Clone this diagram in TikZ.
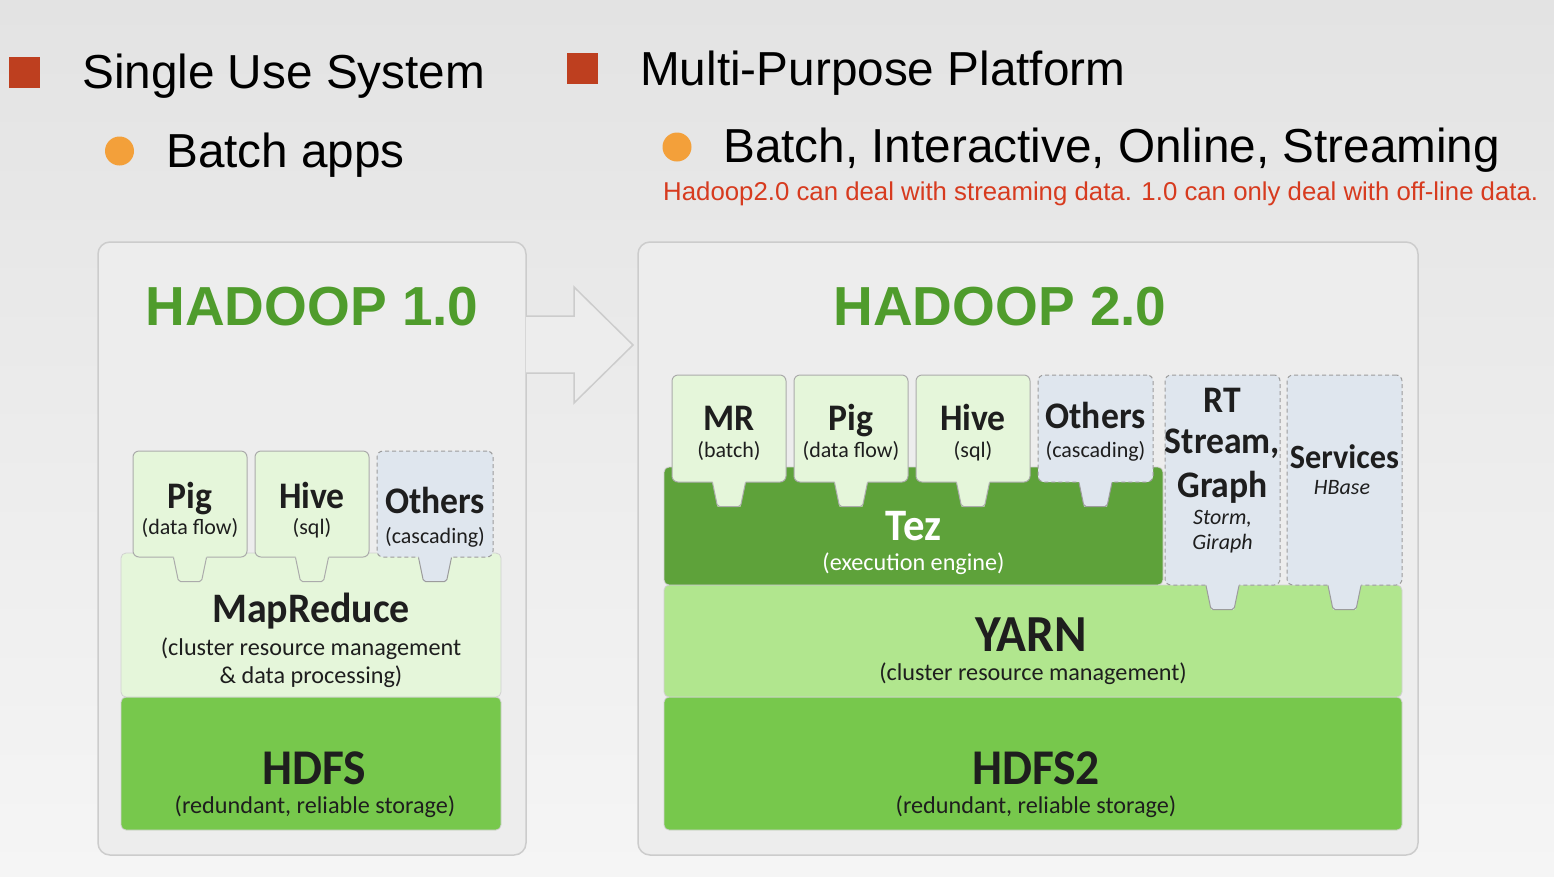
\documentclass[tikz,border=0pt]{standalone}
\usepackage{fontspec}
\setmainfont{Liberation Sans}
\newfontfamily\calb[FakeStretch=0.95]{Carlito}
\newfontfamily\calr{Carlito}
\newcommand\fsz[1]{\fontsize{#1}{#1}\selectfont}
\definecolor{bgtop}{HTML}{E3E3E3}
\definecolor{bgbot}{HTML}{F5F5F5}
\definecolor{panelfill}{HTML}{EDEDED}
\definecolor{panelline}{HTML}{CCCCCC}
\definecolor{redsq}{HTML}{BE3F1F}
\definecolor{orangedot}{HTML}{F3A03A}
\definecolor{redtext}{HTML}{D73B1F}
\definecolor{titlegreen}{HTML}{4F9C2C}
\definecolor{appgreen}{HTML}{E5F6DA}
\definecolor{appline}{HTML}{ABABAB}
\definecolor{otherfill}{HTML}{DFE6EE}
\definecolor{otherline}{HTML}{9C9C9C}
\definecolor{hdfsgreen}{HTML}{77C84C}
\definecolor{tezgreen}{HTML}{5EA23A}
\definecolor{yarngreen}{HTML}{B1E68E}
\definecolor{textdark}{HTML}{1E1E1E}
\tikzset{
  hdr/.style={inner sep=0pt, anchor=base west, text=black, font={\fsz{47.7}}},
  bigtitle/.style={inner sep=0pt, anchor=base, text=titlegreen, font={\bfseries\fsz{55}}},
  panel/.style={draw=panelline, fill=panelfill, line width=1.5pt, rounded corners=12pt, inner sep=0pt},
  arrowline/.style={draw=panelline, line width=1.5pt, fill=panelfill, line join=miter},
  layer/.style={inner sep=0pt, rounded corners=5pt, draw=black!18, line width=0.8pt},
  appbox/.style={inner sep=0pt, rounded corners=6pt, draw=appline, fill=appgreen, line width=1pt},
  otherbox/.style={inner sep=0pt, rounded corners=6pt, draw=otherline, fill=otherfill, line width=1pt, dash pattern=on 4pt off 3pt},
  ttl/.style={inner sep=0pt, anchor=base, text=textdark, font={\calb\bfseries\fsz{37.5}}},
  sub/.style={inner sep=0pt, anchor=base, text=textdark, font={\calr\fsz{22}}},
  itl/.style={inner sep=0pt, anchor=base, text=textdark, font={\calr\itshape\fsz{22}}},
  laytl/.style={inner sep=0pt, anchor=base, text=textdark, font={\calb\bfseries\fsz{50}}},
  laysub/.style={inner sep=0pt, anchor=base, text=textdark, font={\calr\fsz{24.2}}},
}
% tab below a box: #1 node, #2 fill colour, #3 line style
\newcommand\tabbelow[3]{%
  \fill[#2] ([shift={(-16.5,-2)}]#1.south) -- ([shift={(-16.5,0)}]#1.south) -- ([shift={(-11.5,24)}]#1.south) -- ([shift={(11.5,24)}]#1.south) -- ([shift={(16.5,0)}]#1.south) -- ([shift={(16.5,-2)}]#1.south) -- cycle;
  \draw[#3, line width=1pt, rounded corners=2pt] ([shift={(-16.5,0)}]#1.south) -- ([shift={(-11.5,24)}]#1.south) -- ([shift={(11.5,24)}]#1.south) -- ([shift={(16.5,0)}]#1.south);}
\begin{document}
\begin{tikzpicture}[x=1pt,y=-1pt]
\useasboundingbox (0,0) rectangle (1554,876);
\shade[top color=bgtop, bottom color=bgbot] (0,0) rectangle (1554,876);

% headers
\fill[redsq] (9,57) rectangle (40,88);
\node[hdr] (single) at (82,88) {Single Use System};
\fill[orangedot] (119.5,151) circle (14.5);
\node[hdr] (batchapps) at (166,167) {Batch apps};
\fill[redsq] (567,53) rectangle (598,84);
\node[hdr] (multi) at (640,85) {Multi-Purpose Platform};
\fill[orangedot] (677,147) circle (14.5);
\node[hdr] (bio) at (723,162) {Batch, Interactive, Online, Streaming};
\node[inner sep=0pt, anchor=base west, text=redtext] (note) at (663,200)
  {\resizebox{875pt}{!}{\fsz{24}Hadoop2.0 can deal with streaming data. 1.0 can only deal with off-line data.}};

% panels and arrow
\node[panel, minimum width=428pt, minimum height=613pt] (p1) at (312,548.5) {};
\node[panel, minimum width=780pt, minimum height=613pt] (p2) at (1028,548.5) {};
\draw[arrowline] (526,316) -- (574,316) -- (574,287) -- (633,345) -- (574,403) -- (574,373) -- (526,373);

\node[bigtitle] (h1) at (312,325) {HADOOP 1.0};
\node[bigtitle] (h2) at (1000,325) {HADOOP 2.0};

% ---- Hadoop 1.0 stack
\node[layer, fill=hdfsgreen, minimum width=380pt, minimum height=133pt] (hdfs1) at (311,763.5) {};
\node[layer, fill=appgreen, minimum width=380pt, minimum height=144pt] (mr1) at (311,625) {};
\node[appbox, minimum width=114pt, minimum height=106pt] (pig1) at (190,504) {};
\node[appbox, minimum width=114pt, minimum height=106pt] (hive1) at (312,504) {};
\node[otherbox, minimum width=116pt, minimum height=106pt] (oth1) at (435,504) {};
\tabbelow{pig1}{appgreen}{draw=appline}
\tabbelow{hive1}{appgreen}{draw=appline}
\tabbelow{oth1}{otherfill}{draw=otherline}

\node[ttl] at (190,508) {Pig};
\node[sub] at (190,534) {(data flow)};
\node[ttl] at (312,508) {Hive};
\node[sub] at (312,534) {(sql)};
\node[ttl] at (435,513) {Others};
\node[sub] at (435,543) {(cascading)};
\node[inner sep=0pt, anchor=base, text=textdark, font={\calb\bfseries\fsz{42}}] at (311,622) {MapReduce};
\node[laysub] at (311,655) {(cluster resource management};
\node[laysub] at (311,683) {\& data processing)};
\node[laytl] at (314,784) {HDFS};
\node[laysub] at (315,813) {(redundant, reliable storage)};

% ---- Hadoop 2.0 stack
\node[layer, fill=hdfsgreen, minimum width=738pt, minimum height=133pt] (hdfs2) at (1033,763.5) {};
\node[layer, fill=yarngreen, minimum width=738pt, minimum height=112pt] (yarn) at (1033,641) {};
\node[layer, fill=tezgreen, minimum width=499pt, minimum height=118pt] (tez) at (913.5,526) {};
\node[appbox, minimum width=114pt, minimum height=107pt] (mrb) at (729,428.5) {};
\node[appbox, minimum width=114pt, minimum height=107pt] (pig2) at (851,428.5) {};
\node[appbox, minimum width=114pt, minimum height=107pt] (hive2) at (973,428.5) {};
\node[otherbox, minimum width=115pt, minimum height=107pt] (oth2) at (1095.5,428.5) {};
\node[otherbox, minimum width=115pt, minimum height=210pt] (rt) at (1222.5,480) {};
\node[otherbox, minimum width=115pt, minimum height=210pt] (svc) at (1344.5,480) {};
\tabbelow{mrb}{appgreen}{draw=appline}
\tabbelow{pig2}{appgreen}{draw=appline}
\tabbelow{hive2}{appgreen}{draw=appline}
\tabbelow{oth2}{otherfill}{draw=otherline}
\tabbelow{rt}{otherfill}{draw=otherline}
\tabbelow{svc}{otherfill}{draw=otherline}

\node[ttl] at (729,430) {MR};
\node[sub] at (729,457) {(batch)};
\node[ttl] at (851,430) {Pig};
\node[sub] at (851,457) {(data flow)};
\node[ttl] at (973,430) {Hive};
\node[sub] at (973,457) {(sql)};
\node[ttl] at (1095.5,428) {Others};
\node[sub] at (1095.5,457) {(cascading)};
\node[ttl] at (1222.5,412) {RT};
\node[ttl] at (1222.5,453) {Stream,};
\node[ttl] at (1222.5,497) {Graph};
\node[itl] at (1222.5,524) {Storm,};
\node[itl] at (1222.5,549) {Giraph};
\node[inner sep=0pt, anchor=base, text=textdark, font={\calb\bfseries\fsz{34}}] at (1344.5,468) {Services};
\node[itl] at (1342,494) {HBase};
\node[inner sep=0pt, anchor=base, text=white, font={\calb\bfseries\fsz{45}}] at (913.5,540) {Tez};
\node[laysub, text=white] at (913.5,570) {(execution engine)};
\node[inner sep=0pt, anchor=base, text=textdark, font={\calb\bfseries\fsz{52}}] at (1031,651) {YARN};
\node[laysub] at (1033,680) {(cluster resource management)};
\node[laytl] at (1036,784) {HDFS2};
\node[laysub] at (1036,813) {(redundant, reliable storage)};
\end{tikzpicture}
\end{document}
